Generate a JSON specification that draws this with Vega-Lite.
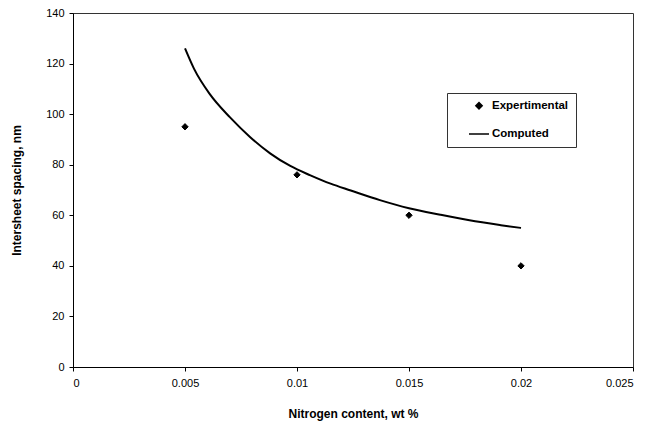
{
  "$schema": "https://vega.github.io/schema/vega-lite/v6.json",
  "width": 560,
  "height": 354,
  "autosize": {"type": "none"},
  "padding": {"left": 73, "top": 13, "right": 15, "bottom": 62},
  "background": "white",
  "config": {
    "font": "Liberation Sans",
    "view": {"stroke": "#333", "strokeWidth": 1},
    "axis": {
      "domainColor": "black",
      "tickColor": "black",
      "labelColor": "black",
      "titleColor": "black",
      "labelFontSize": 11,
      "titleFontSize": 12,
      "titleFontWeight": "bold",
      "grid": false,
      "tickSize": 4
    }
  },
  "datasets": {
    "measured": [
      {"nitrogen": 0.005, "spacing": 95, "series": "Expertimental"},
      {"nitrogen": 0.01, "spacing": 76, "series": "Expertimental"},
      {"nitrogen": 0.015, "spacing": 60, "series": "Expertimental"},
      {"nitrogen": 0.02, "spacing": 40, "series": "Expertimental"}
    ],
    "model": [
      {"nitrogen": 0.005, "spacing": 126},
      {"nitrogen": 0.0054, "spacing": 118},
      {"nitrogen": 0.0061, "spacing": 108},
      {"nitrogen": 0.007, "spacing": 98.8},
      {"nitrogen": 0.0079, "spacing": 91},
      {"nitrogen": 0.0088, "spacing": 84.5},
      {"nitrogen": 0.0097, "spacing": 79.5},
      {"nitrogen": 0.0106, "spacing": 75.8},
      {"nitrogen": 0.0115, "spacing": 72.5},
      {"nitrogen": 0.0124, "spacing": 69.8},
      {"nitrogen": 0.0137, "spacing": 66},
      {"nitrogen": 0.015, "spacing": 62.8},
      {"nitrogen": 0.0164, "spacing": 60.2},
      {"nitrogen": 0.0177, "spacing": 58},
      {"nitrogen": 0.0191, "spacing": 56.1},
      {"nitrogen": 0.02, "spacing": 55}
    ]
  },
  "encoding": {
    "x": {
      "field": "nitrogen",
      "type": "quantitative",
      "scale": {"domain": [0, 0.025], "nice": false, "zero": true},
      "axis": {
        "title": "Nitrogen content, wt %",
        "values": [0, 0.005, 0.01, 0.015, 0.02, 0.025],
        "format": "~g",
        "labelPadding": 6,
        "titlePadding": 20
      }
    },
    "y": {
      "field": "spacing",
      "type": "quantitative",
      "scale": {"domain": [0, 140], "nice": false},
      "axis": {
        "title": "Intersheet spacing, nm",
        "values": [0, 20, 40, 60, 80, 100, 120, 140],
        "labelPadding": 5,
        "titlePadding": 22
      }
    }
  },
  "layer": [
    {
      "data": {"name": "model"},
      "mark": {"type": "line", "color": "black", "strokeWidth": 2, "interpolate": "monotone"}
    },
    {
      "data": {"name": "measured"},
      "mark": {"type": "point", "filled": false, "fill": "black", "stroke": "black", "strokeWidth": 1, "opacity": 1, "fillOpacity": 1, "strokeOpacity": 1},
      "encoding": {
        "size": {
          "field": "series",
          "type": "nominal",
          "scale": {"domain": ["Expertimental", "Computed"], "range": [40, 400]}
        },
        "shape": {
          "field": "series",
          "type": "nominal",
          "scale": {"domain": ["Expertimental", "Computed"], "range": ["diamond", "stroke"]},
          "legend": {
            "title": null,
            "orient": "none",
            "legendX": 374,
            "legendY": 80,
            "strokeColor": "#333",
            "fillColor": "white",
            "padding": 7,
            "symbolOffset": 14,
            "symbolFillColor": "black",
            "symbolStrokeColor": "black",
            "symbolStrokeWidth": 1.5,
            "labelFontSize": 11.5,
            "labelFontWeight": "bold",
            "labelColor": "black",
            "labelOffset": 2,
            "rowPadding": 11,
            "encode": {
              "symbols": {
                "update": {
                  "stroke": {"value": "black"},
                  "strokeOpacity": {"value": 1},
                  "strokeWidth": {"value": 1.5}
                }
              }
            }
          }
        }
      }
    }
  ]
}
